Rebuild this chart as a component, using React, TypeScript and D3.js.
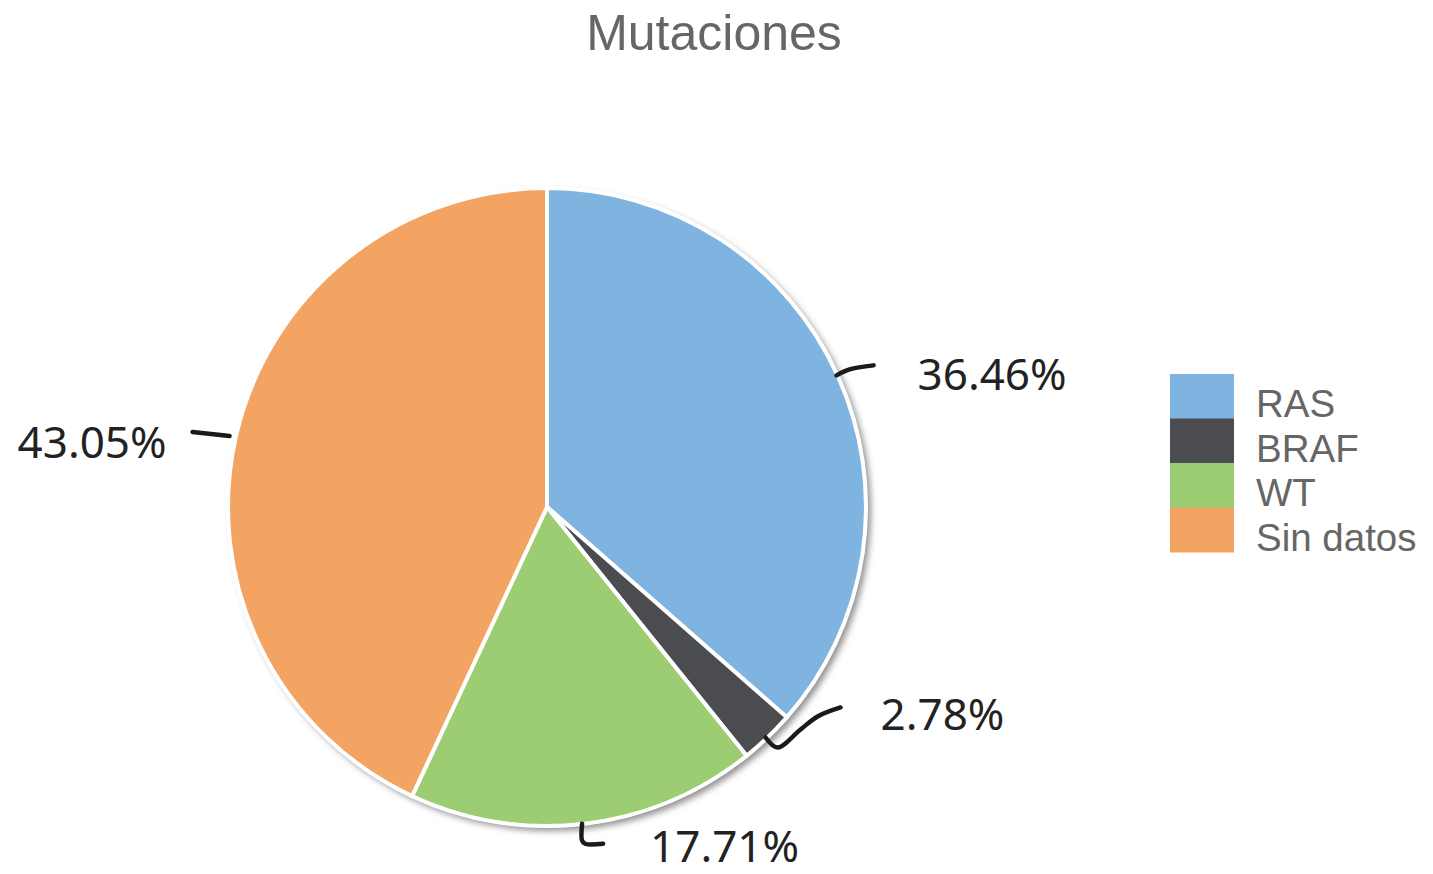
import React from "react";
import * as d3 from "d3";

const categories = ["RAS", "BRAF", "WT", "Sin datos"];
const values = [36.46, 2.78, 17.71, 43.05];
const valueLabels = ["36.46%", "2.78%", "17.71%", "43.05%"];
const colors = ["#80b4e0", "#4a4c50", "#9dcd73", "#f4a462"];
const title = "Mutaciones";

const W = 1433;
const H = 874;
const cx = 547;
const cy = 507;
const R = 319;

// label layout relative to the slice's outer mid-point
const labelLayout = [
  { tx: 80, ty: 15, anchor: "start", leader: [[-1, 0], [12, -6], [36, -10]] },
  { tx: 113, ty: -7, anchor: "start", leader: [[-2, 0], [10, 10], [33, -8], [50, -21], [73, -30]] },
  { tx: 65, ty: 38, anchor: "start", leader: [[-3, 0], [-3, 17], [0, 20], [18, 20]] },
  { tx: -69, ty: 20, anchor: "end", leader: [[-43, -6], [-6, -2]] },
];

export default function App() {
  const pie = d3
    .pie<number>()
    .sort(null)
    .value((d) => d)
    .startAngle(0)
    .endAngle(2 * Math.PI);
  const arcs = pie(values);
  const arc = d3.arc<d3.PieArcDatum<number>>().innerRadius(0).outerRadius(R);
  const line = d3.line().curve(d3.curveCatmullRom.alpha(0.5));

  const legendX = 1170;
  const legendY = 374;
  const sw = 64;
  const sh = 44.5;

  return (
    <svg
      width={W}
      height={H}
      style={{ position: "absolute", left: 0, top: 0, background: "#fff" }}
    >
      <defs>
        <filter id="shadow" x="-10%" y="-10%" width="120%" height="120%">
          <feDropShadow dx="4" dy="4" stdDeviation="3" floodColor="#777" floodOpacity="0.8" />
        </filter>
      </defs>
      <text
        x={714}
        y={50}
        textAnchor="middle"
        fontFamily="Liberation Sans, Arial, sans-serif"
        fontSize={50}
        fill="#666"
      >
        {title}
      </text>
      <g transform={`translate(${cx},${cy})`}>
        <circle r={R + 1} fill="#fff" filter="url(#shadow)" />
        {arcs.map((a, i) => (
          <path
            key={categories[i]}
            d={arc(a) || ""}
            fill={colors[i]}
            stroke="#fff"
            strokeWidth={4}
            strokeLinejoin="round"
          />
        ))}
        <circle r={R} fill="none" stroke="#fff" strokeWidth={3} />
        {arcs.map((a, i) => {
          const mid = (a.startAngle + a.endAngle) / 2;
          const ax = Math.sin(mid) * R;
          const ay = -Math.cos(mid) * R;
          const lay = labelLayout[i];
          const pts = lay.leader.map(([dx, dy]) => [ax + dx, ay + dy] as [number, number]);
          return (
            <g key={"lab" + i}>
              <path
                d={line(pts) || ""}
                fill="none"
                stroke="#1a1a1a"
                strokeWidth={4.5}
                strokeLinecap="round"
                strokeLinejoin="round"
              />
              <text
                x={ax + lay.tx}
                y={ay + lay.ty}
                textAnchor={lay.anchor as any}
                fontFamily="Noto Sans, sans-serif"
                fontSize={44}
                fill="#222"
              >
                {valueLabels[i]}
              </text>
            </g>
          );
        })}
      </g>
      <g>
        {categories.map((c, i) => (
          <g key={"leg" + c}>
            <rect
              x={legendX}
              y={legendY + i * sh}
              width={sw}
              height={sh + 0.5}
              fill={colors[i]}
            />
            <text
              x={1256}
              y={legendY + i * sh + sh / 2 + 21}
              fontFamily="Liberation Sans, Arial, sans-serif"
              fontSize={38.5}
              fill="#666"
            >
              {c}
            </text>
          </g>
        ))}
      </g>
    </svg>
  );
}
